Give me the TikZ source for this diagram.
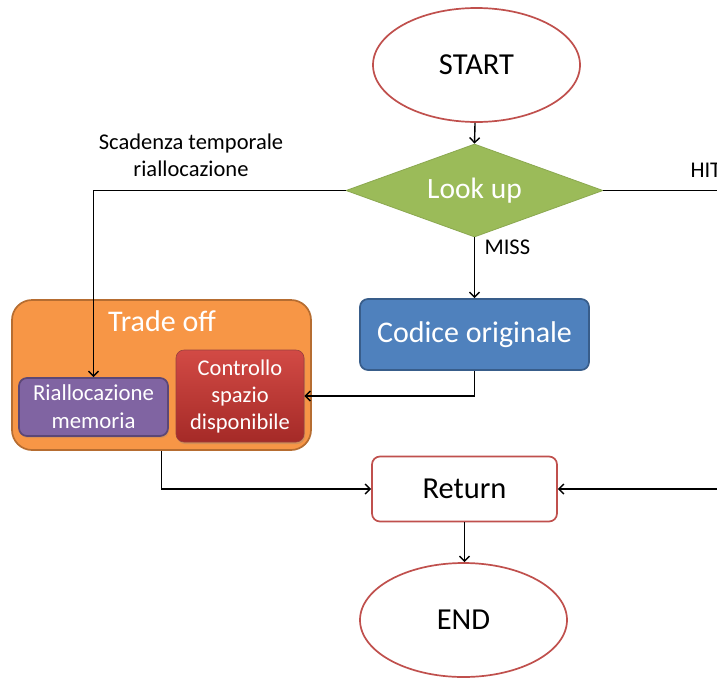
\documentclass[tikz,border=0pt]{standalone}
\usepackage{fontspec}
\setmainfont{Carlito}
\usetikzlibrary{shapes.geometric,arrows.meta,shadows}
\definecolor{cred}{HTML}{C0504D}
\definecolor{cgreen}{HTML}{9BBB59}
\definecolor{cblue}{HTML}{4F81BD}
\definecolor{cblueb}{HTML}{385D8A}
\definecolor{corange}{HTML}{F79646}
\definecolor{coranged}{HTML}{B66D31}
\definecolor{cpurple}{HTML}{8064A2}
\definecolor{cpurpled}{HTML}{5C4776}
\definecolor{credtop}{HTML}{D24A45}
\definecolor{credbot}{HTML}{A52A27}
\begin{document}
\begin{tikzpicture}[x=1pt,y=-1pt,
  conn/.style={line width=1.4pt,draw=black},
  arr/.style={conn,-{Straight Barb[length=5pt,width=10pt]}},
  term/.style={ellipse,draw=cred,line width=1.7pt,fill=white,minimum width=207pt,minimum height=114pt,font=\fontsize{30.5}{32}\selectfont,inner sep=0pt},
  whitetxt/.style={text=white,align=center},
  rbox/.style={rectangle,rounded corners=8pt,line width=1.7pt,inner sep=0pt}
]
\clip (0,0) rectangle (717,678);
\fill[white] (0,0) rectangle (717,678);

\node[term] (start) at (476.5,65) {START};
\node[term] (end) at (463.5,620) {END};

\node[diamond,aspect=2.76,fill=cgreen,draw=cgreen!90!black,line width=0.8pt,minimum width=257pt,minimum height=93pt,inner sep=0pt,whitetxt,font=\fontsize{29.5}{32}\selectfont] (look) at (474.5,190.5) {Look up};

\node[rbox,fill=cblue,draw=cblueb,minimum width=229pt,minimum height=71pt,whitetxt,font=\fontsize{30}{32}\selectfont] (codice) at (474.5,334.5) {Codice originale};

\node[rectangle,rounded corners=20pt,fill=corange,draw=coranged,line width=1.7pt,minimum width=299pt,minimum height=150pt,inner sep=0pt] (trade) at (161.5,375) {};
\node[whitetxt,font=\fontsize{30}{32}\selectfont] (tradelbl) at (162,321) {Trade off};

\node[rbox,fill=cpurple,draw=cpurpled,minimum width=149pt,minimum height=58pt,whitetxt,font=\fontsize{22.8}{28}\selectfont,drop shadow={opacity=0.25,shadow xshift=1pt,shadow yshift=-2pt}] (rial) at (93.5,407) {Riallocazione\\memoria};

\node[rbox,top color=credtop,bottom color=credbot,draw=cred!80!black,line width=0.6pt,minimum width=128pt,minimum height=92pt,whitetxt,font=\fontsize{22.5}{27}\selectfont,drop shadow={opacity=0.3,shadow xshift=1pt,shadow yshift=-2pt}] (ctrl) at (240,396) {Controllo\\spazio\\disponibile};

\node[rbox,fill=white,draw=cred,minimum width=185pt,minimum height=65pt,font=\fontsize{30.5}{32}\selectfont] (ret) at (464.5,489) {Return};

\coordinate (hitend) at (720,190.5);
\coordinate (rightin) at (720,489);

% connectors
\draw[arr] (start) -- (look.north);
\draw[conn] (look.east) -- (hitend);
\node[font=\fontsize{22.5}{26}\selectfont,anchor=west] (hit) at (687,170) {HIT};
\draw[arr] (look.west) -| (rial.north);
\node[font=\fontsize{22.5}{27}\selectfont,align=center] (scad) at (191,155) {Scadenza temporale\\riallocazione};
\draw[arr] (look.south) -- (codice.north);
\node[font=\fontsize{22.5}{26}\selectfont,anchor=west] (miss) at (481,247) {MISS};
\draw[arr] (codice.south) |- (ctrl.east);
\draw[arr] (trade.south) |- (ret.west);
\draw[arr] (rightin) -- (ret.east);
\draw[arr] (ret.south) -- (ret.south |- end.north);
\end{tikzpicture}
\end{document}
